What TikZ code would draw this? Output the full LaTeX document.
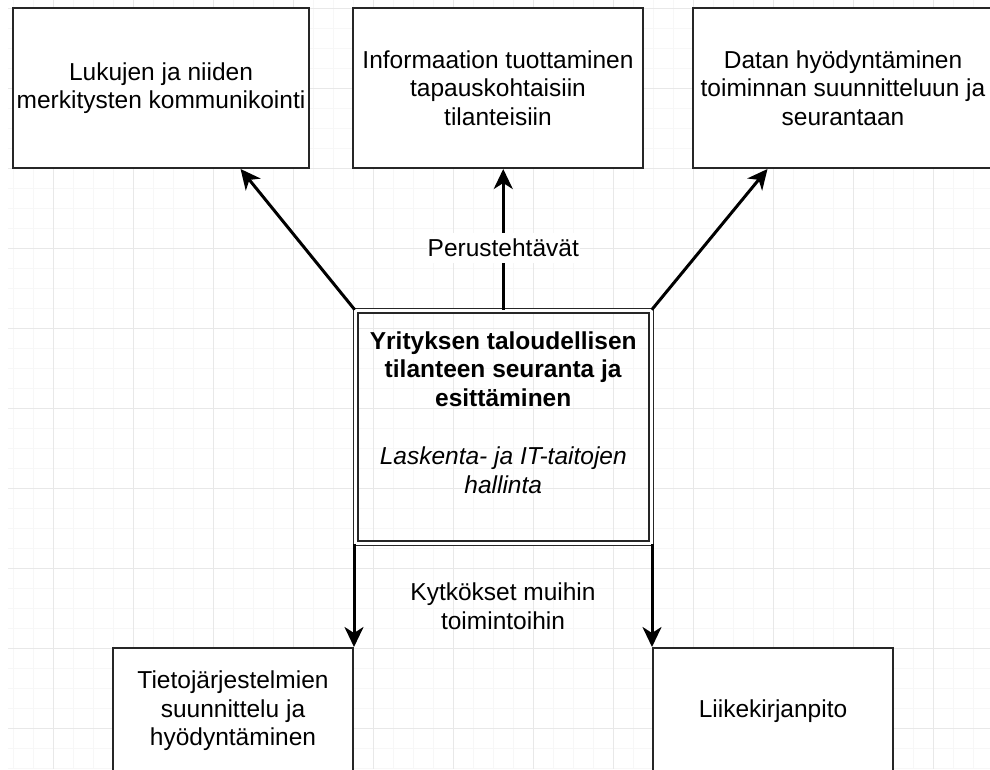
\documentclass[tikz,border=0pt]{standalone}
\usepackage{fontspec}
\setmainfont{Liberation Sans}
\usetikzlibrary{arrows.meta,calc}
\begin{document}
\begin{tikzpicture}[x=1pt,y=-1pt,
  txt/.style={font=\fontsize{24.5}{28.5}\selectfont, text=black, align=center},
  box/.style={txt, draw=black!85, line width=2pt, fill=white,
    minimum width=#1, inner sep=0pt},
  topbox/.style={box=#1, minimum height=160pt},
  lowbox/.style={box=#1, minimum height=126pt},
  mainbox/.style={txt, draw=black!85, line width=1.5pt, double=white,
    double distance=3pt, minimum width=295.5pt, minimum height=232.5pt,
    inner sep=0pt},
  arr/.style={line width=3pt, black, -{Stealth[length=20pt,width=19pt,inset=6pt]}},
  minorgrid/.style={line width=1pt, black!3},
  majorgrid/.style={line width=1pt, black!9}]
\useasboundingbox (0,0) rectangle (990,769);
\fill[white] (0,0) rectangle (990,769);
% background grid
\foreach \x in {13,33,...,990} \draw[minorgrid] (\x,0) -- (\x,769);
\foreach \y in {8,28,...,769} \draw[minorgrid] (8,\y) -- (990,\y);
\foreach \x in {53,133,...,990} \draw[majorgrid] (\x,0) -- (\x,769);
\foreach \y in {8,88,...,769} \draw[majorgrid] (8,\y) -- (990,\y);

% top row
\node[topbox=296pt] (b1) at (161,88) {Lukujen ja niiden\\merkitysten kommunikointi};
\node[topbox=290pt] (b2) at (498,88) {Informaation tuottaminen\\tapauskohtaisiin\\tilanteisiin};
\node[topbox=300pt] (b3) at (843,88) {Datan hyödyntäminen\\toiminnan suunnitteluun ja\\seurantaan};

% central box
\node[mainbox] (c) at (503.25,426.75) {\textbf{Yrityksen taloudellisen}\\\textbf{tilanteen seuranta ja}\\\textbf{esittäminen}\\[30pt]\textit{Laskenta- ja IT-taitojen}\\\textit{hallinta}\\\mbox{}};

% bottom row
\node[lowbox=240pt] (b4) at (233,711) {Tietojärjestelmien\\suunnittelu ja\\hyödyntäminen};
\node[lowbox=240pt] (b5) at (773,711) {Liikekirjanpito};

% connectors
\draw[arr] (c.north west) -- ($(b1.south west)!0.767!(b1.south east)$);
\draw[arr] (c.north) -- node[txt, fill=white, inner xsep=1pt, inner ysep=6pt, pos=0.44] (lbl) {Perustehtävät} (c.north |- b2.south);
\draw[arr] (c.north east) -- ($(b3.south west)!0.25!(b3.south east)$);
\draw[arr] (c.south -| b4.north east) -- (b4.north east);
\draw[arr] (c.south -| b5.north west) -- (b5.north west);
\node[txt] (k) at (503,606) {Kytkökset muihin\\toimintoihin};
\end{tikzpicture}
\end{document}
